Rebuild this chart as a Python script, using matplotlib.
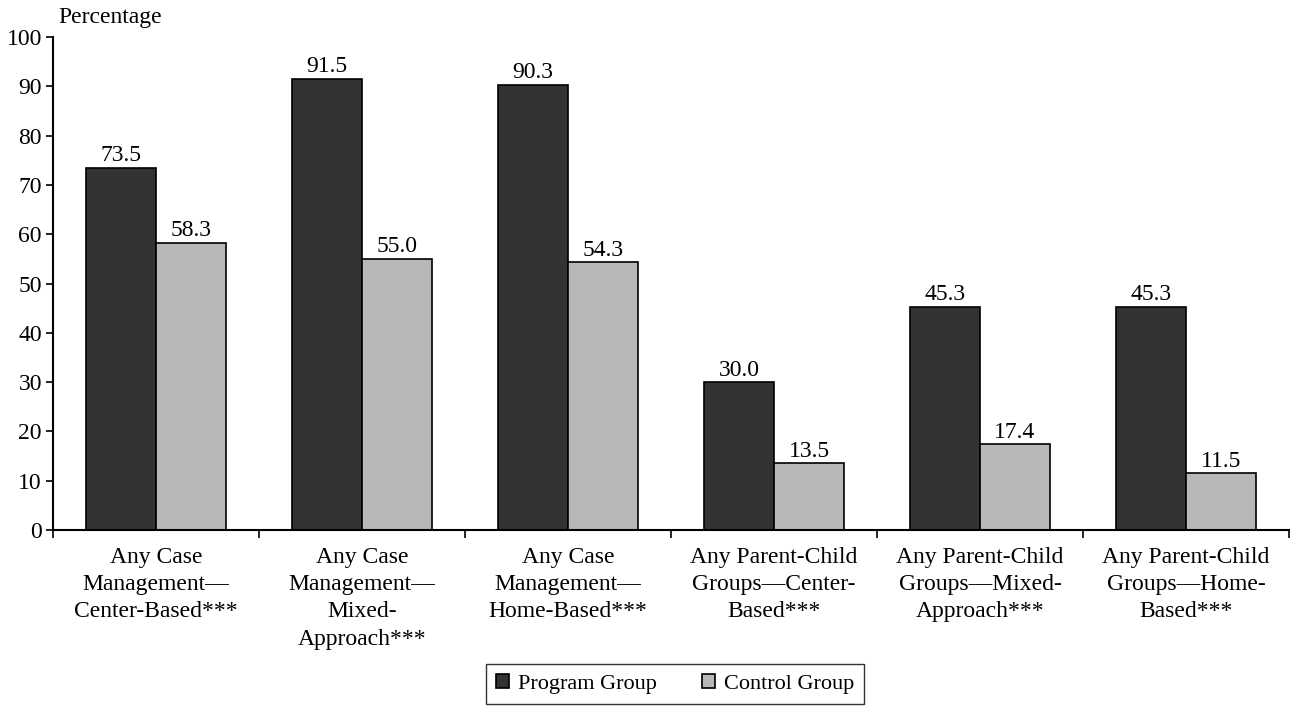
import matplotlib
matplotlib.use("Agg")
import matplotlib.pyplot as plt
import numpy as np

categories = [
    "Any Case\nManagement—\nCenter-Based***",
    "Any Case\nManagement—\nMixed-\nApproach***",
    "Any Case\nManagement—\nHome-Based***",
    "Any Parent-Child\nGroups—Center-\nBased***",
    "Any Parent-Child\nGroups—Mixed-\nApproach***",
    "Any Parent-Child\nGroups—Home-\nBased***",
]
program = [73.5, 91.5, 90.3, 30.0, 45.3, 45.3]
control = [58.3, 55.0, 54.3, 13.5, 17.4, 11.5]
yticks = list(range(0, 101, 10))

plt.rcParams['font.family'] = ['Liberation Serif', 'DejaVu Serif']
fs = 17

fig = plt.figure(figsize=(12.91, 7.07), dpi=100)
ax = fig.add_axes([53/1291, 1-530/707, (1289-53)/1291, (530-37)/707])

x = np.arange(len(categories))
w = 0.34
b1 = ax.bar(x - w/2, program, w, color='#333333', edgecolor='black', linewidth=1.2, label='Program Group')
b2 = ax.bar(x + w/2, control, w, color='#b8b8b8', edgecolor='black', linewidth=1.2, label='Control Group')
for bars, vals in ((b1, program), (b2, control)):
    for r, v in zip(bars, vals):
        ax.text(r.get_x() + r.get_width()/2, v + 0.3, f"{v:.1f}", ha='center', va='bottom', fontsize=fs)

ax.set_xlim(-0.5, len(categories) - 0.5)
ax.set_ylim(0, 100)
ax.set_yticks(yticks)
ax.tick_params(axis='y', labelsize=fs, length=5, width=1.2, direction='out', pad=3)
ax.set_xticks(x)
ax.set_xticklabels(categories, fontsize=fs, linespacing=1.4, va='top')
ax.tick_params(axis='x', which='major', length=0, pad=12)
ax.set_xticks(np.arange(-0.5, len(categories)), minor=True)
ax.tick_params(axis='x', which='minor', length=6, width=1.2, direction='out')
for s in ('top', 'right'):
    ax.spines[s].set_visible(False)
for s in ('left', 'bottom'):
    ax.spines[s].set_linewidth(1.5)

fig.text(58/1291, 1-17/707, "Percentage", fontsize=fs, ha='left', va='center')

leg = fig.legend(handles=[b1, b2], loc='center', bbox_to_anchor=(675/1291, 1-684/707), ncol=2,
                 fontsize=16, frameon=True, fancybox=False, edgecolor='black',
                 handlelength=0.6, handleheight=0.6, handletextpad=0.4, columnspacing=2.0,
                 borderpad=0.45, borderaxespad=0)
leg.get_frame().set_linewidth(1.0)

fig.savefig("out.png", dpi=100)
